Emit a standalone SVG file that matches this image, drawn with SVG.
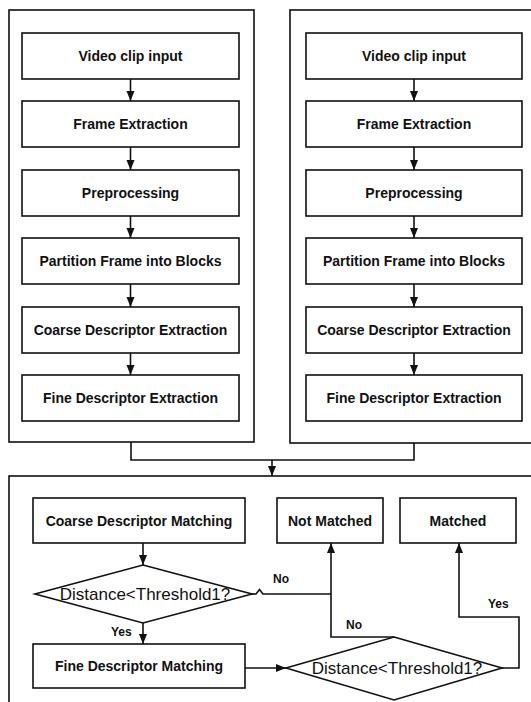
<svg xmlns="http://www.w3.org/2000/svg" width="531" height="702" viewBox="0 0 531 702">
  <defs>
    <marker id="arr" markerUnits="userSpaceOnUse" markerWidth="10" markerHeight="10" viewBox="0 0 10 10" refX="10" refY="5" orient="auto">
      <path d="M0,1 L10,5 L0,9 Z" fill="#111"/>
    </marker>
    <style>
      .panel { fill: #fff; stroke: #111; stroke-width: 1.6; }
      .box { fill: #fff; stroke: #111; stroke-width: 1.6; }
      .dia { fill: #fff; stroke: #111; stroke-width: 1.6; }
      .t { font-family: "Liberation Sans", Arial, sans-serif; font-weight: bold; font-size: 14px; fill: #111; text-anchor: middle; }
      .dt { font-family: "Liberation Sans", Arial, sans-serif; font-size: 17px; fill: #111; text-anchor: middle; }
      .lbl { font-family: "Liberation Sans", Arial, sans-serif; font-weight: bold; font-size: 12px; fill: #111; }
      .c { fill: none; stroke: #111; stroke-width: 1.6; }
      .ca { fill: none; stroke: #111; stroke-width: 1.6; marker-end: url(#arr); }
    </style>
  </defs>
  <rect width="531" height="702" fill="#fff"/>

  <g id="panel-left"><rect class="panel" x="9" y="10" width="245" height="432"/></g>
  <g id="panel-right"><rect class="panel" x="290" y="10" width="250" height="433"/></g>
  <g id="panel-bottom"><rect class="panel" x="9" y="476" width="531" height="240"/></g>

  <!-- left column -->
  <g id="L1"><rect class="box" x="22" y="33" width="217" height="46"/><text class="t" x="130.5" y="61">Video clip input</text></g>
  <g id="L2"><rect class="box" x="22" y="101" width="217" height="46"/><text class="t" x="130.5" y="129">Frame Extraction</text></g>
  <g id="L3"><rect class="box" x="22" y="170" width="217" height="46"/><text class="t" x="130.5" y="198">Preprocessing</text></g>
  <g id="L4"><rect class="box" x="22" y="238" width="217" height="46"/><text class="t" x="130.5" y="266">Partition Frame into Blocks</text></g>
  <g id="L5"><rect class="box" x="22" y="307" width="217" height="46"/><text class="t" x="130.5" y="335">Coarse Descriptor Extraction</text></g>
  <g id="L6"><rect class="box" x="22" y="375" width="217" height="46"/><text class="t" x="130.5" y="403">Fine Descriptor Extraction</text></g>

  <!-- right column -->
  <g id="R1"><rect class="box" x="306" y="33" width="216" height="46"/><text class="t" x="414" y="61">Video clip input</text></g>
  <g id="R2"><rect class="box" x="306" y="101" width="216" height="46"/><text class="t" x="414" y="129">Frame Extraction</text></g>
  <g id="R3"><rect class="box" x="306" y="170" width="216" height="46"/><text class="t" x="414" y="198">Preprocessing</text></g>
  <g id="R4"><rect class="box" x="306" y="238" width="216" height="46"/><text class="t" x="414" y="266">Partition Frame into Blocks</text></g>
  <g id="R5"><rect class="box" x="306" y="307" width="216" height="46"/><text class="t" x="414" y="335">Coarse Descriptor Extraction</text></g>
  <g id="R6"><rect class="box" x="306" y="375" width="216" height="46"/><text class="t" x="414" y="403">Fine Descriptor Extraction</text></g>

  <!-- bottom section -->
  <g id="coarse-match"><rect class="box" x="33" y="498" width="212" height="45"/><text class="t" x="139" y="526">Coarse Descriptor Matching</text></g>
  <g id="not-matched"><rect class="box" x="277" y="498" width="106" height="45"/><text class="t" x="330" y="526">Not Matched</text></g>
  <g id="matched"><rect class="box" x="400" y="498" width="116" height="45"/><text class="t" x="458" y="526">Matched</text></g>
  <g id="dec1"><polygon class="dia" points="143,565 252,594 143,623 35,594"/><text class="dt" x="145" y="600">Distance&lt;Threshold1?</text></g>
  <g id="fine-match"><rect class="box" x="33" y="644" width="212" height="44"/><text class="t" x="139" y="671">Fine Descriptor Matching</text></g>
  <g id="dec2"><polygon class="dia" points="394,637 502,668 394,700 286,668"/><text class="dt" x="397" y="674">Distance&lt;Threshold1?</text></g>

  <g id="connectors">
    <line class="ca" x1="130.5" y1="79" x2="130.5" y2="101"/>
    <line class="ca" x1="130.5" y1="147" x2="130.5" y2="170"/>
    <line class="ca" x1="130.5" y1="216" x2="130.5" y2="238"/>
    <line class="ca" x1="130.5" y1="284" x2="130.5" y2="307"/>
    <line class="ca" x1="130.5" y1="353" x2="130.5" y2="375"/>
    <line class="ca" x1="414" y1="79" x2="414" y2="101"/>
    <line class="ca" x1="414" y1="147" x2="414" y2="170"/>
    <line class="ca" x1="414" y1="216" x2="414" y2="238"/>
    <line class="ca" x1="414" y1="284" x2="414" y2="307"/>
    <line class="ca" x1="414" y1="353" x2="414" y2="375"/>
    <polyline class="c" points="131,442 131,460 414,460 414,443"/>
    <line class="ca" x1="272" y1="460" x2="272" y2="476"/>
    <line class="ca" x1="143" y1="543" x2="143" y2="565"/>
    <line class="ca" x1="143" y1="623" x2="143" y2="644"/>
    <line class="ca" x1="245" y1="668" x2="286" y2="668"/>
    <path class="c" d="M252,594 L256,594 L259.5,589.5 L263,594 L331,594"/>
    <polyline class="ca" points="394,637 331,637 331,543"/>
    <polyline class="ca" points="502,668 519,668 519,617 459,617 459,543"/>
    <text class="lbl" x="273" y="583">No</text>
    <text class="lbl" x="346" y="629">No</text>
    <text class="lbl" x="488" y="608">Yes</text>
    <text class="lbl" x="111" y="636">Yes</text>
  </g>
</svg>
